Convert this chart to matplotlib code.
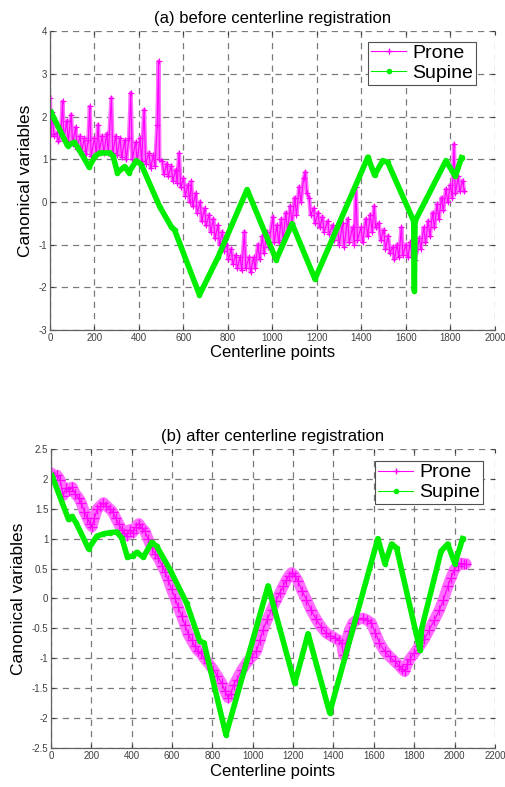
import matplotlib
matplotlib.use("Agg")
import matplotlib.pyplot as plt
from matplotlib.lines import Line2D
from matplotlib.ticker import FuncFormatter

plt.rcParams['font.family'] = ['Liberation Sans', 'DejaVu Sans']
plt.rcParams['axes.unicode_minus'] = False

# ---- (a) before registration ----
prone_a_x = [0, 5, 10, 18, 30, 38, 50, 57, 62, 75, 82, 95, 102, 115, 122, 135, 142, 155, 162, 172,
             179, 185, 200, 208, 216, 222, 235, 242, 255, 262, 276, 282, 295, 302, 315, 322, 336, 343,
             355, 363, 370, 385, 392, 405, 412, 423, 430, 445, 452, 465, 472, 482, 488, 492, 505, 512,
             525, 532, 545, 552, 565, 572, 580, 588, 600, 608, 620, 628, 635, 642, 655, 662, 675, 682,
             695, 702, 715, 722, 735, 742, 755, 762, 775, 782, 795, 802, 815, 822, 835, 842, 855, 862,
             874, 880, 895, 902, 915, 922, 935, 942, 955, 962, 975, 982, 1002, 1008, 1020, 1028, 1040,
             1048, 1060, 1068, 1080, 1088, 1100, 1108, 1120, 1128, 1140, 1148, 1155, 1165, 1172, 1185,
             1192, 1205, 1212, 1225, 1232, 1248, 1255, 1270, 1278, 1293, 1300, 1315, 1322, 1338, 1345,
             1360, 1368, 1375, 1382, 1398, 1405, 1420, 1428, 1440, 1448, 1457, 1464, 1478, 1487, 1500,
             1508, 1520, 1528, 1540, 1548, 1560, 1568, 1580, 1586, 1600, 1608, 1620, 1628, 1637, 1640,
             1652, 1660, 1667, 1680, 1688, 1700, 1708, 1720, 1728, 1740, 1748, 1760, 1768, 1780, 1788,
             1800, 1808, 1816, 1822, 1835, 1842, 1855, 1862]
prone_a_y = [2.45, 1.60, 2.10, 1.55, 1.62, 1.42, 1.70, 2.36, 1.45, 1.90, 1.42, 2.05, 1.35, 1.75, 1.25,
             1.55, 1.20, 1.50, 1.12, 1.45, 2.24, 1.07, 1.50, 1.10, 1.81, 1.20, 1.55, 1.15, 1.60, 1.15,
             2.44, 1.15, 1.55, 1.10, 1.50, 1.05, 1.45, 1.00, 1.50, 2.56, 1.00, 1.40, 0.95, 1.50, 0.95,
             2.16, 0.90, 1.15, 0.80, 1.10, 0.85, 1.80, 3.30, 1.00, 0.95, 0.65, 0.90, 0.60, 0.85, 0.50,
             0.75, 0.45, 1.14, 0.35, 0.55, 0.15, 0.40, 0.00, 0.48, -0.10, 0.20, -0.25, 0.00, -0.45,
             -0.15, -0.55, -0.30, -0.70, -0.40, -0.85, -0.55, -1.00, -0.70, -1.15, -1.00, -1.35, -1.10,
             -1.45, -1.25, -1.55, -1.30, -1.60, -0.70, -1.55, -1.30, -1.65, -1.30, -1.55, -1.00, -1.35,
             -0.80, -1.20, -0.70, -1.05, -0.35, -0.95, -0.55, -0.95, -0.40, -0.90, -0.25, -0.70, -0.10,
             -0.50, 0.10, -0.30, 0.35, 0.00, 0.55, 0.70, 0.20, 0.10, -0.30, -0.15, -0.50, -0.25, -0.60,
             -0.35, -0.70, -0.45, -0.75, -0.55, -0.90, -0.60, -1.00, -0.50, -1.05, -0.40, -0.95, -0.60,
             -1.00, 0.36, -0.90, -0.60, -0.95, -0.40, -0.80, -0.30, -0.70, -0.10, -0.60, -0.50, -0.90,
             -0.65, -1.10, -0.80, -1.20, -1.05, -1.35, -1.00, -1.30, -0.60, -1.25, -1.00, -1.30, -0.95,
             -1.30, -0.60, -1.37, -1.10, -0.85, -1.10, -0.60, -0.95, -0.45, -0.80, -0.25, -0.60, -0.05,
             -0.40, 0.10, -0.20, 0.30, 0.00, 0.40, 0.10, 1.35, 0.20, 0.60, 0.25, 0.50, 0.25]

supine_a_x = [5, 79, 109, 127, 176, 202, 224, 269, 284, 303, 336, 354, 388, 411, 493, 545, 560, 672,
              755, 886, 1017, 1088, 1191, 1429, 1459, 1496, 1518, 1635, 1638, 1641, 1780, 1822, 1850]
supine_a_y = [2.10, 1.32, 1.40, 1.26, 0.82, 1.07, 1.15, 1.15, 1.07, 0.69, 0.83, 0.69, 0.97, 0.87,
              -0.11, -0.58, -0.66, -2.18, -1.30, 0.29, -1.36, -0.51, -1.81, 1.05, 0.63, 0.97, 0.93,
              -0.45, -2.08, -0.45, 0.97, 0.60, 1.04]

# ---- (b) after registration ----
prone_b_x = [0, 15, 30, 45, 60, 75, 90, 105, 120, 137, 150, 165, 180, 192, 203, 215, 230, 245, 260,
             275, 290, 305, 320, 335, 350, 362, 375, 390, 405, 420, 435, 450, 466, 480, 499, 515, 532,
             550, 565, 582, 598, 615, 631, 648, 664, 680, 697, 713, 730, 745, 760, 780, 804, 825, 845,
             862, 878, 890, 905, 920, 945, 969, 995, 1018, 1035, 1051, 1072, 1093, 1113, 1134, 1150,
             1167, 1180, 1192, 1208, 1224, 1245, 1266, 1290, 1315, 1340, 1365, 1385, 1406, 1425, 1440,
             1450, 1460, 1478, 1496, 1520, 1546, 1565, 1587, 1608, 1628, 1653, 1678, 1703, 1727, 1740,
             1752, 1765, 1777, 1800, 1826, 1850, 1875, 1900, 1925, 1945, 1966, 1983, 1999, 2015, 2032,
             2045, 2057]
prone_b_y = [2.10, 2.05, 2.06, 1.98, 1.72, 1.85, 1.80, 1.86, 1.75, 1.68, 1.60, 1.45, 1.35, 1.25, 1.20,
             1.35, 1.50, 1.55, 1.60, 1.55, 1.50, 1.45, 1.35, 1.25, 1.15, 1.10, 1.05, 1.15, 1.10, 1.20,
             1.25, 1.18, 1.12, 1.00, 0.85, 0.75, 0.68, 0.55, 0.45, 0.30, 0.15, 0.00, -0.15, -0.30,
             -0.45, -0.60, -0.70, -0.80, -0.88, -0.92, -1.00, -1.08, -1.19, -1.30, -1.41, -1.55, -1.66,
             -1.60, -1.45, -1.36, -1.20, -1.08, -0.98, -0.88, -0.70, -0.52, -0.35, -0.19, -0.05, 0.09,
             0.20, 0.31, 0.38, 0.43, 0.38, 0.29, 0.12, -0.02, -0.20, -0.35, -0.48, -0.58, -0.62, -0.66,
             -0.70, -0.74, -0.95, -0.75, -0.55, -0.41, -0.35, -0.33, -0.36, -0.41, -0.58, -0.74, -0.88,
             -0.97, -1.05, -1.13, -1.18, -1.22, -1.10, -1.02, -0.92, -0.80, -0.68, -0.52, -0.36, -0.19,
             -0.02, 0.20, 0.35, 0.48, 0.55, 0.59, 0.57, 0.58]

supine_b_x = [5, 87, 104, 125, 186, 227, 260, 293, 326, 351, 379, 405, 425, 458, 499, 524, 590, 672,
              738, 758, 867, 1076, 1208, 1274, 1381, 1620, 1655, 1688, 1713, 1829, 1836, 1933, 1966,
              2002, 2040]
supine_b_y = [2.05, 1.32, 1.37, 1.26, 0.83, 1.04, 1.08, 1.10, 1.11, 1.01, 0.69, 0.71, 0.77, 0.69,
              0.94, 0.87, 0.48, -0.08, -0.72, -0.74, -2.28, 0.21, -1.42, -0.59, -1.91, 1.00, 0.58,
              0.91, 0.84, -0.87, -0.52, 0.79, 0.91, 0.58, 1.00]

MAGENTA = '#ff00ff'
LIGHT_MAGENTA = '#ff70ff'
GREEN = '#00ee00'


def style_axes(ax, xmax, ylim, yticks, xticks):
    ax.set_xlim(0, xmax)
    ax.set_ylim(*ylim)
    ax.set_xticks(xticks)
    ax.set_yticks(yticks)
    ax.yaxis.set_major_formatter(FuncFormatter(lambda v, p: '%g' % v))
    ax.grid(True, color='#7a7a7a', linestyle=(0, (5, 4)), linewidth=0.9)
    ax.spines['top'].set_visible(False)
    ax.spines['right'].set_visible(False)
    for s in ('left', 'bottom'):
        ax.spines[s].set_color('#606060')
        ax.spines[s].set_linewidth(0.9)
    ax.tick_params(direction='in', length=3, labelsize=7, colors='#404040',
                   top=True, right=True, pad=2)
    ax.set_xlabel('Centerline points', fontsize=12, labelpad=2)
    ax.set_ylabel('Canonical variables', fontsize=12.5, labelpad=4)


def add_legend(ax, anchor):
    handles = [Line2D([0, 1, 2], [0, 0, 0], color=MAGENTA, lw=0.8, marker='+', markersize=5,
                      markevery=[1]),
               Line2D([0, 1, 2], [0, 0, 0], color=GREEN, lw=0.8, marker='.', markersize=6,
                      markevery=[1])]
    leg = ax.legend(handles, ['Prone', 'Supine'], loc='upper right', bbox_to_anchor=anchor,
                    borderaxespad=0, fontsize=14, handlelength=1.8, handletextpad=0.3,
                    labelspacing=0.12, borderpad=0.15, fancybox=False, framealpha=1)
    leg.get_frame().set_edgecolor('#505050')
    leg.get_frame().set_linewidth(0.8)


fig = plt.figure(figsize=(5.05, 7.87), dpi=100)
ax1 = fig.add_axes([0.099, 0.581, 0.881, 0.379])
ax2 = fig.add_axes([0.101, 0.0496, 0.879, 0.380])

ax1.plot(prone_a_x, prone_a_y, color=LIGHT_MAGENTA, lw=3, solid_joinstyle='round')
ax1.plot(prone_a_x, prone_a_y, color=MAGENTA, lw=0.8, marker='+', markersize=5, mew=0.8)
ax1.plot(supine_a_x, supine_a_y, color=GREEN, lw=4, marker='.', markersize=6, solid_joinstyle='round')
style_axes(ax1, 2000, (-3, 4), range(-3, 5), range(0, 2001, 200))
ax1.set_title('(a) before centerline registration', fontsize=12, pad=6)
add_legend(ax1, (0.957, 0.966))

ax2.plot(prone_b_x, prone_b_y, color=LIGHT_MAGENTA, lw=8, solid_joinstyle='round',
         solid_capstyle='round')
ax2.plot(prone_b_x, prone_b_y, color=MAGENTA, lw=0.8, marker='+', markersize=7, mew=0.9)
ax2.plot(supine_b_x, supine_b_y, color=GREEN, lw=4, marker='.', markersize=6, solid_joinstyle='round')
style_axes(ax2, 2200, (-2.5, 2.5), [-2.5 + 0.5 * i for i in range(11)], range(0, 2201, 200))
ax2.set_title('(b) after centerline registration', fontsize=12, pad=6)
add_legend(ax2, (0.973, 0.96))

fig.savefig('out.png', dpi=100)
